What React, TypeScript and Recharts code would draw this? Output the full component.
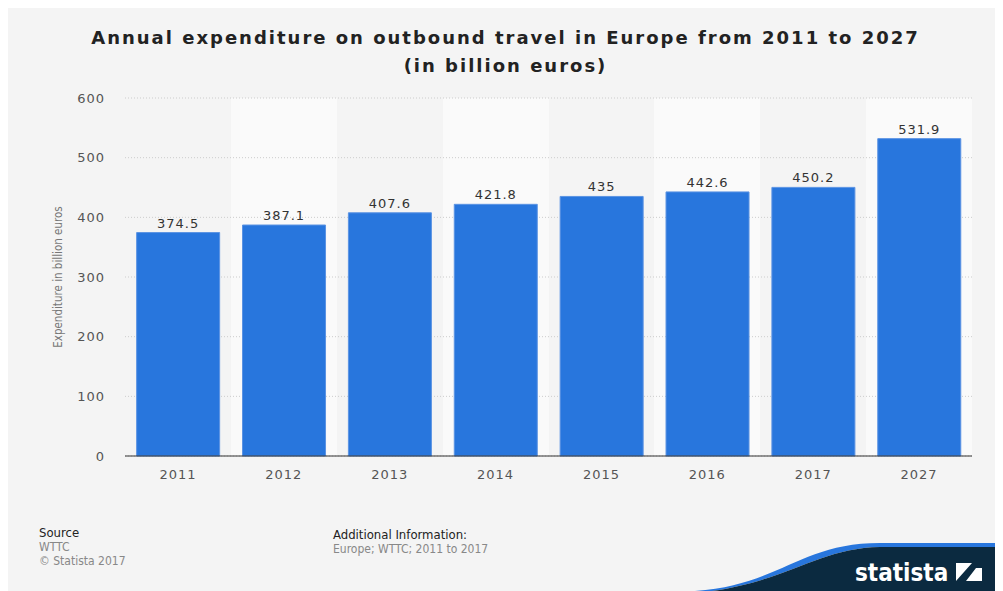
import { Bar, BarChart, CartesianGrid, LabelList, XAxis, YAxis } from "recharts";

const years = ["2011", "2012", "2013", "2014", "2015", "2016", "2017", "2027"];
const expenditure = [374.5, 387.1, 407.6, 421.8, 435, 442.6, 450.2, 531.9];
const yTicks = [0, 100, 200, 300, 400, 500, 600];

const rows = years.map((year, i) => ({ year, value: expenditure[i] }));

const FONT = "'DejaVu Sans', sans-serif";
const FONT_COND = "'DejaVu Sans Condensed', 'DejaVu Sans', sans-serif";

// band edges for the alternating column backgrounds
function bandEdges({ offset }: { offset: { left: number; width: number } }) {
  const step = offset.width / years.length;
  return years.map((_, i) => Math.round(offset.left + i * step));
}

function StatistaLogo() {
  return (
    <svg
      width={323}
      height={61}
      style={{ position: "absolute", left: 672, top: 522 }}
    >
      <path
        d="M15 61 C100 55, 120 13, 200 13 L323 13 L323 17 L200 17 C140 18, 110 50, 32 61 Z"
        fill="#2876dd"
      />
      <path d="M32 61 C110 50, 140 18, 200 17 L323 17 L323 61 Z" fill="#0b2a40" />
      <text
        x={175}
        y={51}
        fill="#ffffff"
        fontFamily={FONT_COND}
        fontWeight="bold"
        fontSize={24}
      >
        statista
      </text>
      <rect x={276} y={33} width={26} height={18} fill="#ffffff" />
      <path d="M276 51 L286 51 L296 38 L302 38 L302 33 L292 33 Z" fill="#0b2a40" />
    </svg>
  );
}

export default function App() {
  return (
    <div
      style={{
        position: "relative",
        width: 995,
        height: 583,
        background: "#f4f4f4",
        overflow: "hidden",
      }}
    >
      <style>{"body{overflow:hidden}"}</style>
      <div
        style={{
          position: "absolute",
          top: 16,
          left: 0,
          width: 995,
          textAlign: "center",
          fontFamily: FONT,
          fontWeight: "bold",
          fontSize: 18,
          lineHeight: "28px",
          letterSpacing: 2,
          color: "#222",
        }}
      >
        Annual expenditure on outbound travel in Europe from 2011 to 2027
        <br />
        (in billion euros)
      </div>

      <BarChart
        width={995}
        height={500}
        data={rows}
        margin={{ top: 90, right: 31, bottom: 22, left: 45 }}
        barCategoryGap="11%"
        style={{ position: "absolute", top: 0, left: 0 }}
      >
        <CartesianGrid
          stroke="#cccccc"
          strokeDasharray="1 2"
          verticalFill={["transparent", "#fafafa"]}
          verticalCoordinatesGenerator={bandEdges}
          vertical={() => <g />}
        />
        <XAxis
          dataKey="year"
          axisLine={{ stroke: "#333333" }}
          tickLine={false}
          tickMargin={8}
          height={30}
          tick={{ fill: "#555555", fontSize: 13, fontFamily: FONT, letterSpacing: 1 }}
        />
        <YAxis
          type="number"
          domain={[0, 600]}
          ticks={yTicks}
          width={72}
          axisLine={false}
          tickLine={false}
          tickMargin={14}
          tick={{ fill: "#555555", fontSize: 13, fontFamily: FONT, letterSpacing: 1 }}
          label={{
            value: "Expenditure in billion euros",
            angle: -90,
            position: "insideLeft",
            offset: 5,
            style: {
              textAnchor: "middle",
              fill: "#777777",
              fontSize: 11.5,
              fontFamily: FONT_COND,
            },
          }}
        />
        <Bar
          dataKey="value"
          fill="#2876dd"
          stroke="#5b93e3"
          strokeWidth={1}
          isAnimationActive={false}
        >
          <LabelList
            dataKey="value"
            position="top"
            offset={5}
            fill="#333333"
            fontSize={13}
            fontFamily={FONT}
            letterSpacing={1}
          />
        </Bar>
      </BarChart>

      <div style={{ position: "absolute", left: 31, top: 518, fontFamily: FONT_COND, fontSize: 12, lineHeight: "14px" }}>
        <div style={{ color: "#222", fontSize: 13 }}>Source</div>
        <div style={{ color: "#888" }}>WTTC</div>
        <div style={{ color: "#888" }}>© Statista 2017</div>
      </div>
      <div style={{ position: "absolute", left: 325, top: 519, fontFamily: FONT_COND, fontSize: 12, lineHeight: "15px" }}>
        <div style={{ color: "#222", fontSize: 13 }}>Additional Information:</div>
        <div style={{ color: "#888" }}>Europe; WTTC; 2011 to 2017</div>
      </div>

      <StatistaLogo />
    </div>
  );
}
